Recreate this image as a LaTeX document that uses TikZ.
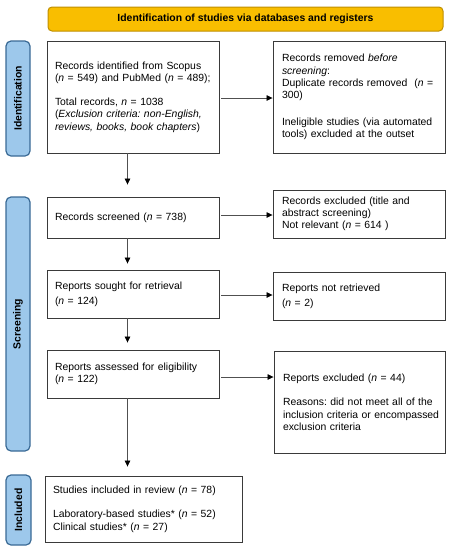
\documentclass[tikz,border=0pt]{standalone}
\usepackage{fontspec}
\setmainfont{Liberation Sans}
\usetikzlibrary{arrows.meta}
\definecolor{hdrfill}{HTML}{F9BE00}
\definecolor{hdrdraw}{HTML}{BF8F00}
\definecolor{sidefill}{HTML}{9DC8EB}
\definecolor{sidedraw}{HTML}{3A6A95}
\definecolor{boxdraw}{HTML}{3A3A3A}
\definecolor{arrcol}{HTML}{505050}
\frenchspacing
\hyphenpenalty=10000
\begin{document}
\begin{tikzpicture}[x=1pt,y=-1pt,
  font=\fontsize{10.4}{12.3}\selectfont,
  box/.style={draw=boxdraw, line width=0.9pt, inner xsep=8pt, inner ysep=0pt, align=left, anchor=center},
  side/.style={draw=sidedraw, fill=sidefill, line width=1.2pt, rounded corners=5pt, rotate=90, inner sep=0pt, font=\fontsize{10.4}{12}\selectfont\bfseries},
  hdr/.style={draw=hdrdraw, fill=hdrfill, line width=1pt, rounded corners=4pt, inner sep=0pt, font=\fontsize{10.4}{12}\selectfont\bfseries},
  arr/.style={draw=arrcol, line width=0.7pt, -{Triangle[length=6pt,width=5.5pt,color=black]}},
]
\useasboundingbox (0,0) rectangle (451,550);

\node[hdr, minimum width=395pt, minimum height=24pt] (head) at (245.5,19) {Identification of studies via databases and registers};

\node[side, minimum width=115pt, minimum height=24pt] (sideid) at (18,98.5) {Identification};
\node[side, minimum width=254pt, minimum height=24pt] (sidesc) at (18,324) {Screening};
\node[side, minimum width=70pt, minimum height=25pt] (sidein) at (18.5,510) {Included};

\node[box, text width=156pt, minimum height=112pt] (ident) at (133,97)
  {Records identified from Scopus\\ (\textit{n} = 549) and PubMed (\textit{n} = 489);\\[12pt]
   Total records, \textit{n} = 1038\\ (\textit{Exclusion criteria: non-English,}\\ \textit{reviews, books, book chapters})};
\node[box, inner xsep=9pt, text width=154pt, minimum height=112pt] (removed) at (359,97)
  {Records removed \textit{before}\\ \textit{screening}:\\ \mbox{Duplicate records removed\ \ (\textit{n} =}\\ 300)\\[14pt]
   Ineligible studies (via automated\\ tools) excluded at the outset};

\node[box, text width=156pt, minimum height=41pt] (screened) at (133,217.5)
  {Records screened (\textit{n} = 738)};
\node[box, inner xsep=9pt, text width=154pt, minimum height=48pt] (excluded) at (359,214)
  {Records excluded (title and\\ abstract screening)\\ Not relevant (\textit{n} = 614 )};

\node[box, text width=156pt, minimum height=48pt] (sought) at (133,294)
  {Reports sought for retrieval\\[2.4pt] (\textit{n} = 124)};
\node[box, inner xsep=9pt, text width=154pt, minimum height=48pt] (notret) at (359,296)
  {Reports not retrieved\\[2.4pt] (\textit{n} = 2)};

\node[box, text width=156pt, minimum height=48pt] (assessed) at (133,374)
  {Reports assessed for eligibility\\ (\textit{n} = 122)};
\node[box, inner xsep=9pt, text width=153pt, minimum height=102pt] (repexcl) at (359.5,402)
  {Reports excluded (\textit{n} = 44)\\[12.3pt]
   \mbox{Reasons: did not meet all of the}\\ \mbox{inclusion criteria or encompassed}\\ exclusion criteria};

\node[box, text width=181pt, minimum height=66pt] (included) at (143.5,509)
  {Studies included in review (\textit{n} = 78)\\[12.3pt]
   Laboratory-based studies* (\textit{n} = 52)\\ Clinical studies* (\textit{n} = 27)};

% horizontal arrows
\draw[arr, shorten <=2pt] (ident.east |- 0,98) -- (removed.west |- 0,98);
\draw[arr, shorten <=2pt] (screened.east |- 0,215) -- (excluded.west |- 0,215);
\draw[arr, shorten <=2pt] (sought.east |- 0,295) -- (notret.west |- 0,295);
\draw[arr, shorten <=2pt] (assessed.east |- 0,377) -- (repexcl.west |- 0,377);

% vertical arrows
\draw[arr, shorten >=12pt] (ident.south -| 127.5,0) -- (screened.north -| 127.5,0);
\draw[arr, shorten >=6pt] (screened.south -| 127.5,0) -- (sought.north -| 127.5,0);
\draw[arr, shorten >=7pt] (sought.south -| 127.5,0) -- (assessed.north -| 127.5,0);
\draw[arr, shorten >=9pt] (assessed.south -| 127.5,0) -- (included.north -| 127.5,0);
\end{tikzpicture}
\end{document}
